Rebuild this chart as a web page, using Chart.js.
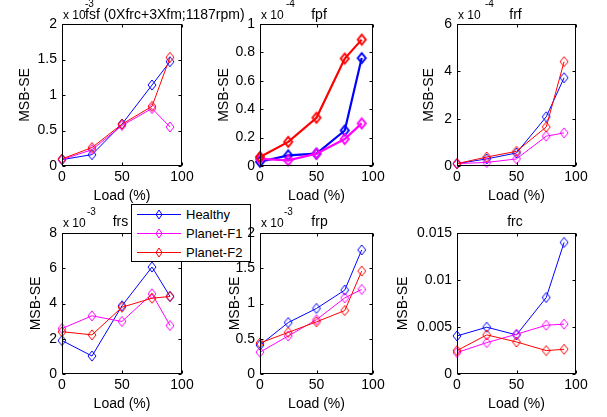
<!DOCTYPE html>
<html>
<head>
<meta charset="utf-8">
<script src="https://cdn.jsdelivr.net/npm/chart.js@4.4.0/dist/chart.umd.min.js"></script>
<style>
  body { margin: 0; background: #fff; width: 607px; height: 417px; position: relative; overflow: hidden; font-family: "Liberation Sans", Arial, sans-serif; color: #000; }
  canvas.pane { position: absolute; }
  .txt { position: absolute; white-space: nowrap; z-index: 4; }
  #legend { position: absolute; left: 131px; top: 204px; width: 120px; height: 58px; box-sizing: border-box; border: 1px solid #000; background: #fff; z-index: 2; }
  #legend .ln { position: absolute; height: 1px; }
  #legend canvas { position: absolute; }
  #legend span { position: absolute; font-size: 13px; line-height: 13px; white-space: nowrap; }
</style>
</head>
<body>
<div id="legend"></div>
<script>
const loads = [0, 25, 50, 75, 90];
const xTicks = [0, 50, 100];
const seriesNames = ["Healthy", "Planet-F1", "Planet-F2"];
const colors = ["#0000ff", "#ff00ff", "#ff0000"];

// fsf (x 10^-3)
const fsfHealthy = [0.09, 0.16, 0.59, 1.14, 1.47];
const fsfF1 = [0.09, 0.23, 0.57, 0.81, 0.55];
const fsfF2 = [0.10, 0.26, 0.59, 0.84, 1.53];
const fsfTicks = [0, 0.5, 1, 1.5, 2];

// fpf (x 10^-4)
const fpfHealthy = [0.03, 0.075, 0.087, 0.25, 0.76];
const fpfF1 = [0.05, 0.04, 0.087, 0.19, 0.30];
const fpfF2 = [0.064, 0.17, 0.34, 0.757, 0.89];
const fpfTicks = [0, 0.2, 0.4, 0.6, 0.8, 1];

// frf (x 10^-4)
const frfHealthy = [0.1, 0.3, 0.55, 2.08, 3.73];
const frfF1 = [0.1, 0.15, 0.3, 1.26, 1.4];
const frfF2 = [0.1, 0.38, 0.62, 1.65, 4.41];
const frfTicks = [0, 2, 4, 6];

// frs (x 10^-3)
const frsHealthy = [1.9, 1.02, 3.87, 6.07, 4.4];
const frsF1 = [2.58, 3.3, 2.98, 4.55, 2.75];
const frsF2 = [2.4, 2.22, 3.79, 4.3, 4.4];
const frsTicks = [0, 2, 4, 6, 8];

// frp (x 10^-3)
const frpHealthy = [0.41, 0.73, 0.93, 1.19, 1.76];
const frpF1 = [0.31, 0.54, 0.77, 1.08, 1.2];
const frpF2 = [0.44, 0.59, 0.74, 0.9, 1.46];
const frpTicks = [0, 0.5, 1, 1.5, 2];

// frc
const frcHealthy = [0.00405, 0.00498, 0.00416, 0.00814, 0.014];
const frcF1 = [0.00228, 0.00334, 0.00423, 0.00519, 0.0053];
const frcF2 = [0.00249, 0.00416, 0.00341, 0.00249, 0.00263];
const frcTicks = [0, 0.005, 0.01, 0.015];

const panels = [
  { title: "fsf (0Xfrc+3Xfm;1187rpm)", exp: "-3", series: [fsfHealthy, fsfF1, fsfF2], yTicks: fsfTicks },
  { title: "fpf", exp: "-4", series: [fpfHealthy, fpfF1, fpfF2], yTicks: fpfTicks },
  { title: "frf", exp: "-4", series: [frfHealthy, frfF1, frfF2], yTicks: frfTicks },
  { title: "frs", exp: "-3", series: [frsHealthy, frsF1, frsF2], yTicks: frsTicks },
  { title: "frp", exp: "-3", series: [frpHealthy, frpF1, frpF2], yTicks: frpTicks },
  { title: "frc", exp: null, series: [frcHealthy, frcF1, frcF2], yTicks: frcTicks },
];

// plot boxes in page pixels; z puts the legend between frs and frp
const boxes = [
  { L: 62, R: 182, T: 24, B: 166, lw: 1, yPad: 24.6, titleX: 85, center: false, expX: 85, z: 1 },
  { L: 260, R: 373, T: 24, B: 166, lw: 2.2, yPad: 25.6, titleX: 319, center: true, expX: 286, z: 1 },
  { L: 457, R: 576, T: 24, B: 166, lw: 1, yPad: 33.9, titleX: 515.5, center: true, expX: 485, z: 1 },
  { L: 62, R: 182, T: 233, B: 374, lw: 1, yPad: 35.6, titleX: 120.5, center: true, expX: 87, z: 1 },
  { L: 260, R: 373, T: 233, B: 374, lw: 1, yPad: 37.1, titleX: 319.5, center: true, expX: 284, z: 3 },
  { L: 457, R: 576, T: 233, B: 374, lw: 1, yPad: 7.6, titleX: 515, center: true, expX: 0, z: 3 },
];

const font = { family: "'Liberation Sans', Arial, sans-serif", size: 14 };

function diamond(color, lw, w, h) {
  const c = document.createElement("canvas");
  c.width = Math.ceil(w + 2 * lw + 2);
  c.height = Math.ceil(h + 2 * lw + 2);
  const g = c.getContext("2d");
  const cx = c.width / 2, cy = c.height / 2;
  g.strokeStyle = color;
  g.lineWidth = lw;
  g.beginPath();
  g.moveTo(cx, cy - h / 2);
  g.lineTo(cx + w / 2, cy);
  g.lineTo(cx, cy + h / 2);
  g.lineTo(cx - w / 2, cy);
  g.closePath();
  g.stroke();
  return c;
}

// box + inward ticks, like matlab axes
const frame = {
  id: "frame",
  afterDraw(chart) {
    const { ctx, chartArea: a, scales: { x, y } } = chart;
    const l = Math.round(a.left) + 0.5, r = Math.round(a.right) - 0.5;
    const t = Math.round(a.top) + 0.5, b = Math.round(a.bottom) - 0.5;
    ctx.save();
    ctx.strokeStyle = "#000";
    ctx.lineWidth = 1;
    ctx.strokeRect(l, t, r - l, b - t);
    ctx.beginPath();
    x.ticks.forEach((tk) => {
      const px = Math.round(x.getPixelForValue(tk.value)) + 0.5;
      ctx.moveTo(px, b); ctx.lineTo(px, b - 3);
      ctx.moveTo(px, t); ctx.lineTo(px, t + 3);
    });
    y.ticks.forEach((tk) => {
      const py = Math.round(y.getPixelForValue(tk.value)) + 0.5;
      ctx.moveTo(l, py); ctx.lineTo(l + 3, py);
      ctx.moveTo(r, py); ctx.lineTo(r - 3, py);
    });
    ctx.stroke();
    ctx.restore();
  },
};

function addText(text, left, top, size, center) {
  const s = document.createElement("div");
  s.className = "txt";
  s.textContent = text;
  s.style.left = left + "px";
  s.style.top = top + "px";
  s.style.fontSize = size + "px";
  s.style.lineHeight = size + "px";
  if (center) s.style.transform = "translateX(-50%)";
  document.body.appendChild(s);
}

panels.forEach((p, k) => {
  const b = boxes[k];
  const cv = document.createElement("canvas");
  cv.className = "pane";
  const w = b.R - b.L + 95, h = b.B - b.T + 60;
  cv.width = w; cv.height = h;
  cv.style.left = (b.L - 70) + "px";
  cv.style.top = (b.T - 15) + "px";
  cv.style.width = w + "px";
  cv.style.height = h + "px";
  cv.style.zIndex = b.z;
  document.body.appendChild(cv);

  new Chart(cv, {
    type: "line",
    data: {
      datasets: p.series.map((vals, i) => ({
        label: seriesNames[i],
        data: loads.map((x, j) => ({ x: x, y: vals[j] })),
        borderColor: colors[i],
        borderWidth: b.lw,
        pointStyle: diamond(colors[i], b.lw > 1 ? 2 : 1, 8, 10),
        pointRadius: 4,
        fill: false,
        tension: 0,
        clip: false,
        order: 2 - i,
      })),
    },
    options: {
      responsive: false,
      animation: false,
      devicePixelRatio: 1,
      layout: { padding: { left: 0, top: 15, right: 25, bottom: 0 } },
      plugins: { legend: { display: false }, tooltip: { enabled: false } },
      scales: {
        x: {
          type: "linear",
          min: 0,
          max: 100,
          afterBuildTicks: (s) => { s.ticks = xTicks.map((v) => ({ value: v })); },
          afterFit: (s) => { s.height = 45; },
          grid: { display: false, drawTicks: false },
          border: { display: false },
          ticks: { padding: 3, font: font, color: "#000", maxRotation: 0, autoSkip: false, callback: (v) => String(v) },
          title: { display: true, text: "Load (%)", font: font, color: "#000", padding: { top: 0, bottom: 6.6 } },
        },
        y: {
          min: p.yTicks[0],
          max: p.yTicks[p.yTicks.length - 1],
          afterBuildTicks: (s) => { s.ticks = p.yTicks.map((v) => ({ value: v })); },
          afterFit: (s) => { s.width = 70; },
          grid: { display: false, drawTicks: false },
          border: { display: false },
          ticks: { padding: 5, font: font, color: "#000", autoSkip: false, callback: (v) => String(v) },
          title: { display: true, text: "MSB-SE", font: font, color: "#000", padding: { top: b.yPad, bottom: 0 } },
        },
      },
    },
    plugins: [frame],
  });

  const row2 = b.T > 100;
  addText(p.title, b.titleX, row2 ? 214 : 7, 14, b.center);
  if (p.exp) {
    addText("x 10", b.L + 1, row2 ? 216.5 : 9, 12, false);
    addText(p.exp, b.expX, row2 ? 206.5 : -1.5, 10, false);
  }
});

// legend
const legend = document.getElementById("legend");
seriesNames.forEach((name, i) => {
  const cy = 9.5 + 19 * i;
  const ln = document.createElement("div");
  ln.className = "ln";
  ln.style.left = "5px";
  ln.style.width = "44px";
  ln.style.top = Math.round(cy - 0.5) + "px";
  ln.style.background = colors[i];
  legend.appendChild(ln);
  const d = diamond(colors[i], 1, 6, 9);
  d.style.left = (27 - d.width / 2) + "px";
  d.style.top = (cy - d.height / 2) + "px";
  legend.appendChild(d);
  const t = document.createElement("span");
  t.textContent = name;
  t.style.left = "54px";
  t.style.top = (cy - 6.3) + "px";
  legend.appendChild(t);
});
</script>
</body>
</html>
